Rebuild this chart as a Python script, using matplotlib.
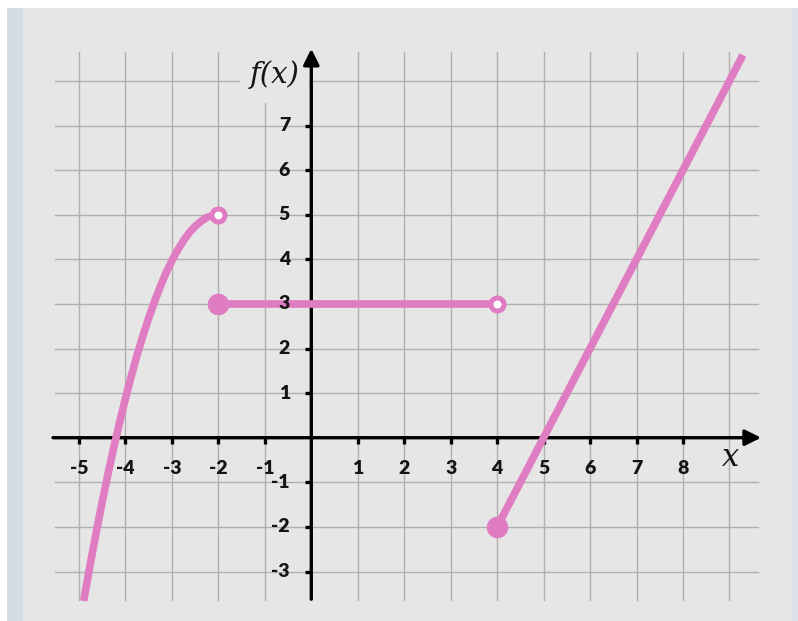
import matplotlib
matplotlib.use("Agg")
import matplotlib.pyplot as plt
from matplotlib.patches import Rectangle

# Piecewise function f(x)
# left branch: curve rising to an open endpoint at (-2, 5)
curve_x = [-4.90, -4.75, -4.625, -4.5, -4.375, -4.25, -4.125, -4.0, -3.875, -3.75,
           -3.625, -3.5, -3.375, -3.25, -3.125, -3.0, -2.875, -2.75, -2.625, -2.5,
           -2.375, -2.25, -2.125, -2.0]
curve_y = [-3.66, -2.79, -2.10, -1.44, -0.81, -0.21, 0.35, 0.88, 1.38, 1.85,
           2.28, 2.68, 3.05, 3.39, 3.70, 3.97, 4.21, 4.42, 4.60, 4.74,
           4.85, 4.94, 4.98, 5.0]
# middle branch: constant 3 on [-2, 4)
flat_x = [-2, 4]
flat_y = [3, 3]
# right branch: straight line from (4, -2) upward
ray_x = [4, 9.29]
ray_y = [-2, 8.58]

closed_x = [-2, 4]
closed_y = [3, -2]
open_x = [-2, 4]
open_y = [5, 3]

x_ticks = [-5, -4, -3, -2, -1, 1, 2, 3, 4, 5, 6, 7, 8]
y_ticks = [-3, -2, -1, 1, 2, 3, 4, 5, 6, 7]
grid_x = list(range(-5, 10))
grid_y = list(range(-3, 9))

PINK = "#e07cc2"
BG = "#e6e6e6"
GRID = "#b0b0b0"

W, H = 798, 621
fig = plt.figure(figsize=(W / 100, H / 100), dpi=100)
fig.patch.set_facecolor("white")

ax = fig.add_axes([0, 0, 1, 1])
ax.set_facecolor("none")
ax.set_xlim(-311.3 / 46.46, (W - 311.3) / 46.46)
ax.set_ylim((437.7 - H) / 44.6, 437.7 / 44.6)
ax.axis("off")

# page background and side strips
ax.add_patch(Rectangle((23 / W, 0), (792 - 23) / W, (H - 8) / H,
                       transform=ax.transAxes, color=BG, zorder=0, lw=0))
ax.add_patch(Rectangle((7 / W, 0), 16 / W, (H - 8) / H,
                       transform=ax.transAxes, color="#d2dde4", zorder=0, lw=0))
ax.add_patch(Rectangle((792 / W, 0), 6 / W, (H - 8) / H,
                       transform=ax.transAxes, color="#dde3e8", zorder=0, lw=0))

# grid
for gx in grid_x:
    ax.plot([gx, gx], [-3.64, 8.65], color=GRID, lw=1.0, zorder=1)
for gy in grid_y:
    ax.plot([-5.52, 9.62], [gy, gy], color=GRID, lw=1.0, zorder=1)

# backdrop behind the f(x) label
ax.add_patch(Rectangle((-1.535, 7.5), 1.49, 1.3, color=BG, zorder=2, lw=0))

# axes with arrows
ax.annotate("", xy=(9.68, 0), xytext=(-5.56, 0),
            arrowprops=dict(arrowstyle="-|>", lw=2.4, color="black",
                            mutation_scale=24, shrinkA=0, shrinkB=0), zorder=3)
ax.annotate("", xy=(0, 8.72), xytext=(0, -3.62),
            arrowprops=dict(arrowstyle="-|>", lw=2.4, color="black",
                            mutation_scale=24, shrinkA=0, shrinkB=0), zorder=3)

# tick marks
for tx in x_ticks:
    ax.plot([tx, tx], [0, -0.15], color="black", lw=2.4, zorder=3, solid_capstyle="butt")
for ty in y_ticks:
    ax.plot([0, -0.13], [ty, ty], color="black", lw=2.4, zorder=3, solid_capstyle="butt")

# the function
ax.plot(curve_x, curve_y, color=PINK, lw=5.5, zorder=4, solid_capstyle="butt",
        solid_joinstyle="round")
ax.plot(flat_x, flat_y, color=PINK, lw=5.5, zorder=4)
ax.plot(ray_x, ray_y, color=PINK, lw=5.5, zorder=4, solid_capstyle="butt")
ax.plot(closed_x, closed_y, "o", ms=14.5, color=PINK, mec=PINK, zorder=5)
ax.plot(open_x, open_y, "o", ms=9.4, mfc="white", mec=PINK, mew=3.6, zorder=5)

# tick labels
tick_font = dict(family="Lato", fontweight="heavy", fontsize=14, color="#141414", zorder=6)
for tx in x_ticks:
    ax.text(tx, (437.7 - 468) / 44.6, str(tx), ha="center", va="center", **tick_font)
for ty in y_ticks:
    ax.text((290 - 311.3) / 46.46, ty, str(ty), ha="right", va="center", **tick_font)

# axis titles
ax.text((275 - 311.3) / 46.46, (437.7 - 75) / 44.6, "f(x)", ha="center", va="center",
        family="DejaVu Serif", style="italic", fontsize=21, color="#141414", zorder=6)
ax.text((731 - 311.3) / 46.46, (437.7 - 457) / 44.6, "x", ha="center", va="center",
        family="DejaVu Serif", style="italic", fontsize=22, color="#141414", zorder=6)

fig.savefig("out.png", dpi=100)
